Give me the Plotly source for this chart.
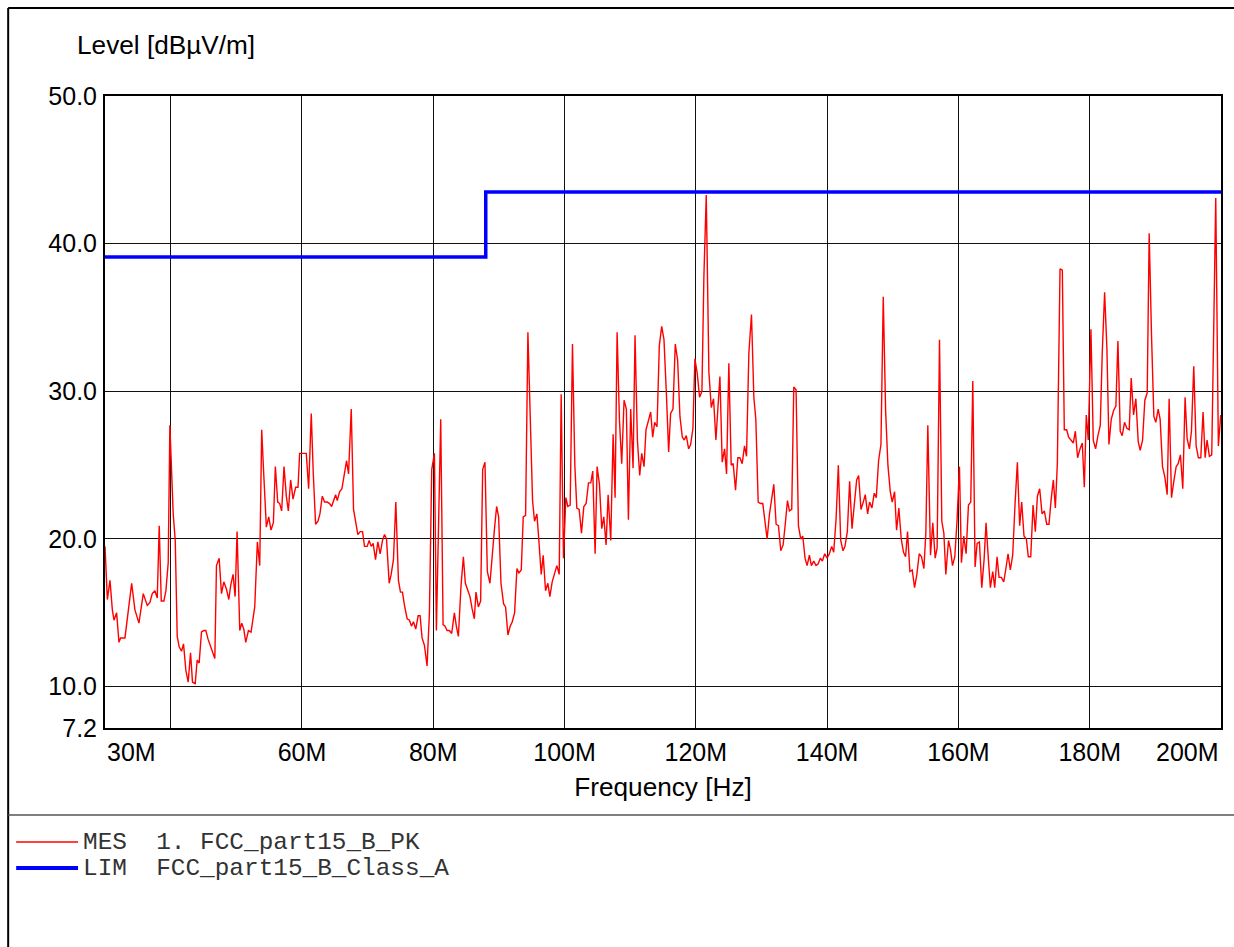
import plotly.graph_objects as go

# Measured peak trace (frequency in MHz, level in dBuV/m)
mes_freq_mhz = [
30.00,30.36,30.76,31.12,31.37,31.77,32.13,32.38,33.04,33.55,34.06,34.56,35.17,35.83,36.44,36.84,37.20,37.60,37.96,38.26,
38.57,38.97,39.28,39.63,39.88,40.39,40.70,41.00,41.30,41.66,41.96,42.32,42.67,43.03,43.33,43.74,44.04,44.34,44.70,45.05,
45.36,45.71,46.22,46.73,46.98,47.39,47.74,48.10,48.50,48.86,49.16,49.51,49.82,50.12,50.53,50.83,51.14,51.44,51.85,52.25,
52.81,53.21,53.57,53.87,54.18,54.58,54.94,55.29,55.65,55.95,56.31,56.61,56.91,57.27,57.62,57.93,
58.28,58.64,59.04,59.40,59.65,60.31,60.66,61.02,61.42,61.73,62.08,62.44,62.74,63.10,63.45,63.86,64.21,64.52,64.82,65.13,
65.38,65.73,66.09,66.39,66.80,67.10,67.51,67.86,68.17,68.52,68.88,69.23,69.53,69.94,70.24,70.55,70.85,71.21,71.56,71.92,
72.27,72.58,72.88,73.29,73.59,73.94,74.30,74.70,75.01,75.31,75.62,76.02,76.38,76.68,76.99,77.34,77.70,78.00,78.30,78.66,
79.06,79.42,79.77,80.18,80.48,80.79,81.14,81.50,81.80,82.11,82.46,82.81,83.22,83.52,83.83,84.23,84.59,84.89,85.25,85.60,
85.91,86.26,
86.51,86.87,87.22,87.53,87.88,88.24,88.64,89.05,89.35,89.66,89.96,90.32,90.72,91.02,91.38,91.73,92.04,92.39,92.75,93.05,
93.41,93.71,94.07,94.42,94.78,95.13,95.43,95.79,96.09,96.45,96.75,97.11,97.46,97.77,98.12,98.48,98.83,99.19,99.49,99.84,
100.20,100.50,100.86,101.21,101.57,101.87,102.23,102.58,102.94,103.29,103.65,104.00,104.30,104.66,104.96,105.32,105.67,105.98,106.33,106.64,
107.04,107.40,107.70,108.01,108.36,108.71,109.07,109.42,109.73,110.08,110.44,110.74,111.10,111.45,111.76,112.11,112.41,112.77,113.12,113.43,
113.73,114.09,
114.44,114.80,115.15,115.51,115.86,116.16,116.52,116.87,117.23,117.58,117.94,118.24,118.55,118.90,119.21,119.56,119.86,120.22,120.57,120.93,
121.23,121.59,121.99,122.35,122.70,123.06,123.36,123.67,124.02,124.38,124.68,125.03,125.39,125.69,126.05,126.40,126.71,127.06,127.42,127.72,
128.08,128.48,128.84,129.14,129.50,129.85,130.20,130.56,130.86,131.22,131.52,131.88,132.23,132.59,132.94,133.30,133.60,133.96,134.26,134.61,
134.92,135.27,135.63,135.98,136.29,136.64,136.95,137.30,137.60,137.96,138.31,138.62,138.97,139.28,139.63,139.99,140.34,140.70,141.00,141.36,
141.71,142.07,142.42,
142.72,143.08,143.43,143.79,144.14,144.50,144.80,145.16,145.51,145.81,146.17,146.47,146.83,147.18,147.49,147.84,148.20,148.55,148.91,149.26,
149.62,149.92,150.28,150.58,150.93,151.29,151.64,151.95,152.25,152.61,152.96,153.32,153.67,154.03,154.38,154.74,155.04,155.34,155.75,156.10,
156.46,156.76,157.12,157.47,157.78,158.08,158.49,158.79,159.10,159.45,159.80,160.16,160.46,160.82,161.17,161.53,161.88,162.19,162.54,162.85,
163.20,163.56,163.91,164.21,164.57,164.87,165.23,165.53,165.89,166.19,166.55,166.90,167.20,167.56,167.91,168.27,168.62,168.98,169.33,169.64,
169.99,170.35,170.65,
171.02,171.37,171.72,172.03,172.38,172.74,173.09,173.45,173.80,174.11,174.46,174.77,175.07,175.48,175.83,176.13,176.49,176.79,177.15,177.50,
177.81,178.16,178.52,178.87,179.18,179.48,179.78,180.19,180.54,180.90,181.25,181.61,181.91,182.27,182.62,182.93,183.28,183.64,183.99,184.30,
184.65,184.95,185.31,185.66,186.02,186.32,186.68,187.03,187.39,187.69,188.05,188.40,188.76,189.06,189.41,189.77,190.07,190.43,190.73,191.09,
191.44,191.80,192.10,192.46,192.81,193.17,193.47,193.82,194.18,194.53,194.84,195.19,195.50,195.85,196.21,196.56,196.92,197.27,197.58,197.88,
198.23,198.59,198.89,199.20,199.60,199.96,
]
mes_level = [
19.5,15.9,17.2,15.2,14.5,15.0,13.0,13.3,13.3,15.0,17.0,15.2,14.3,16.3,15.5,15.7,16.3,16.5,16.0,20.9,
15.8,15.8,16.5,18.4,27.7,21.7,19.9,13.4,12.7,12.4,12.9,11.1,10.3,12.3,10.3,10.2,11.8,11.6,13.7,13.8,
13.8,13.2,12.6,11.9,18.2,18.7,16.3,17.1,16.6,15.9,16.9,17.6,16.1,20.5,13.8,14.3,13.9,13.0,13.8,13.7,
15.4,19.8,18.2,27.4,24.4,20.8,21.5,20.6,21.1,24.9,22.5,22.4,21.9,24.9,22.9,21.9,
24.0,22.7,23.5,23.5,25.8,25.8,25.8,23.4,28.5,24.4,21.0,21.2,21.7,22.9,22.5,22.5,22.4,22.2,22.6,23.0,
22.6,23.2,23.4,24.1,25.3,24.4,28.8,22.0,21.3,20.3,20.5,20.5,19.5,19.5,19.9,19.5,19.7,18.6,19.8,19.0,
19.9,20.3,20.0,17.0,17.6,18.6,22.5,17.2,16.4,16.4,15.5,14.6,14.5,14.1,14.4,13.9,14.8,14.8,13.3,12.8,
11.4,15.0,24.7,25.8,13.8,19.9,28.1,14.2,14.1,13.8,13.8,13.6,15.0,14.1,13.4,16.8,18.8,17.0,16.5,16.1,
15.3,14.6,
16.4,15.4,15.8,24.7,25.2,17.8,17.0,19.5,20.8,22.2,21.5,17.0,15.6,15.4,13.5,14.1,14.4,15.0,18.0,17.7,
17.9,21.5,21.6,34.0,28.5,22.6,21.2,21.7,19.9,17.6,18.9,16.5,17.0,16.1,17.1,17.6,18.2,17.6,29.8,18.7,
22.8,22.2,22.3,33.2,25.0,22.1,22.0,20.4,22.2,22.4,23.8,23.8,24.6,19.0,24.9,23.7,20.7,21.5,19.6,23.0,
19.9,27.1,22.8,34.0,28.1,25.1,29.4,28.8,21.3,28.8,24.8,33.8,26.7,24.3,25.8,24.9,27.4,28.0,28.6,26.9,
27.9,27.6,
33.1,34.4,33.5,29.9,25.9,28.5,28.8,33.2,32.1,28.3,26.9,26.7,27.0,26.1,26.4,27.5,32.2,31.2,29.6,30.0,
37.8,43.3,31.3,28.9,29.5,26.7,29.2,31.0,25.2,26.1,24.4,31.9,25.0,25.1,23.3,25.5,25.5,25.1,26.3,25.6,
32.6,35.2,29.6,28.1,22.5,22.4,22.4,21.2,20.0,21.7,22.6,23.7,21.0,20.9,19.2,19.6,20.9,22.6,21.9,22.0,
30.3,30.1,20.9,20.0,20.2,18.7,18.2,18.9,18.2,18.5,18.2,18.3,18.7,18.5,19.0,18.7,19.0,19.5,19.1,21.3,
25.0,19.9,19.2,
19.5,20.5,23.9,20.7,22.6,24.0,24.3,22.0,22.5,23.0,21.7,22.5,22.1,23.1,22.8,25.3,26.4,36.4,28.7,25.0,
23.2,22.5,23.2,20.6,22.1,20.0,19.1,18.8,20.5,17.8,17.9,16.7,17.6,19.0,18.8,18.0,20.4,27.7,18.9,21.1,
18.7,19.4,33.5,21.2,20.4,17.6,19.9,19.3,18.2,18.8,21.3,24.9,18.4,20.2,19.0,22.3,22.5,30.7,18.1,19.7,
19.8,16.7,18.6,21.1,18.6,16.7,17.8,16.7,18.8,17.4,17.4,17.1,17.9,19.0,17.9,18.9,22.3,25.2,20.9,22.5,
20.2,20.0,18.8,
18.8,22.3,20.5,22.9,23.4,21.7,21.9,21.0,21.0,22.6,24.0,22.1,25.1,38.3,38.2,27.4,27.4,26.9,26.7,26.5,
27.3,25.5,26.1,26.5,23.5,28.4,26.7,34.2,26.7,26.1,27.0,27.7,32.6,36.7,32.9,26.4,28.1,28.7,29.0,33.4,
27.3,27.0,27.9,27.5,27.4,30.9,28.4,29.5,26.6,26.0,26.7,29.4,29.9,40.7,33.9,28.3,27.9,28.8,28.1,24.9,
24.2,23.0,29.5,22.8,23.9,24.9,25.1,25.7,23.4,29.6,26.8,26.1,27.3,31.7,26.3,25.5,25.5,28.6,25.5,26.7,
25.6,25.7,34.2,43.1,26.3,28.4,
]

# Limit line FCC Part 15 B Class A (step)
lim_freq_mhz = [30.0, 88.0, 200.0]
lim_level = [39.1, 43.5, 43.5]

x_tick_vals_mhz = [40, 60, 80, 100, 120, 140, 160, 180, 200]
x_tick_text = ["", "60M", "80M", "100M", "120M", "140M", "160M", "180M", ""]
y_tick_vals = [7.2, 10, 20, 30, 40, 50]
y_tick_text = ["7.2", "10.0", "20.0", "30.0", "40.0", "50.0"]

legend_entries = [("MES\u00a0\u00a01.\u00a0FCC_part15_B_PK", "#ff0000", 1.4),
                  ("LIM\u00a0\u00a0FCC_part15_B_Class_A", "#0000ff", 4)]

W, H = 1234, 947
L, R, T, B = 105, 11, 96, 219
PW, PH = W - L - R, H - T - B


def px(x):
    return (x - L) / PW


def py(y):
    return (H - B - y) / PH


SANS = "Liberation Sans, Arial, sans-serif"
MONO = "Liberation Mono, Courier New, monospace"

fig = go.Figure()
fig.add_trace(go.Scatter(x=[f * 1e6 for f in mes_freq_mhz], y=mes_level, mode="lines",
                         line=dict(color="#ff0000", width=1.4), name="MES", showlegend=False))
fig.add_trace(go.Scatter(x=[f * 1e6 for f in lim_freq_mhz], y=lim_level, mode="lines",
                         line=dict(color="#0000ff", width=3.5, shape="hv"), name="LIM", showlegend=False))

fig.update_layout(
    width=W, height=H,
    margin=dict(l=L, r=R, t=T, b=B, pad=0),
    paper_bgcolor="white", plot_bgcolor="white",
    font=dict(family=SANS, size=25, color="black"),
    xaxis=dict(range=[30e6, 200e6], tickvals=[v * 1e6 for v in x_tick_vals_mhz], ticktext=x_tick_text,
               showgrid=True, gridcolor="#111111", gridwidth=1.3, zeroline=False,
               showline=True, linecolor="black", linewidth=2, mirror=True, ticks="",
               tickangle=0, ticklabelstandoff=1,
               title=dict(text="Frequency [Hz]", font=dict(size=26.2, family=SANS), standoff=13)),
    yaxis=dict(range=[7.2, 50], tickvals=y_tick_vals, ticktext=y_tick_text,
               showgrid=True, gridcolor="#111111", gridwidth=1.3, zeroline=False,
               showline=True, linecolor="black", linewidth=2, mirror=True, ticks="",
               ticklabelstandoff=1),
)

annotations = [
    dict(text="Level [dBµV/m]", xref="paper", yref="paper", x=px(75), y=py(45),
         xanchor="left", yanchor="middle", showarrow=False, font=dict(size=26.2, family=SANS)),
    dict(text="30M", xref="x", yref="paper", x=30e6, y=py(752), xanchor="left", yanchor="middle",
         showarrow=False, font=dict(size=25, family=SANS)),
    dict(text="200M", xref="x", yref="paper", x=200e6, y=py(752), xanchor="right", yanchor="middle",
         showarrow=False, font=dict(size=25, family=SANS)),
]
shapes = [
    dict(type="line", xref="paper", yref="paper", x0=px(8), x1=px(1240), y0=py(8), y1=py(8),
         line=dict(color="black", width=2)),
    dict(type="line", xref="paper", yref="paper", x0=px(8), x1=px(8), y0=py(8), y1=py(950),
         line=dict(color="black", width=2)),
    dict(type="line", xref="paper", yref="paper", x0=px(8), x1=px(1240), y0=py(815), y1=py(815),
         line=dict(color="#555555", width=1.5)),
]
for i, (txt, col, lw) in enumerate(legend_entries):
    yy = 842 + 26 * i
    shapes.append(dict(type="line", xref="paper", yref="paper", x0=px(16), x1=px(78), y0=py(yy), y1=py(yy),
                       line=dict(color=col, width=lw)))
    annotations.append(dict(text=txt, xref="paper", yref="paper", x=px(81), y=py(yy),
                            xanchor="left", yanchor="middle", showarrow=False,
                            font=dict(size=24.4, family=MONO, color="#333333")))
fig.update_layout(annotations=annotations, shapes=shapes)

fig.write_html("out.html", config={"displayModeBar": False},
               post_script="document.body.style.margin='0';document.body.style.overflow='hidden';")
